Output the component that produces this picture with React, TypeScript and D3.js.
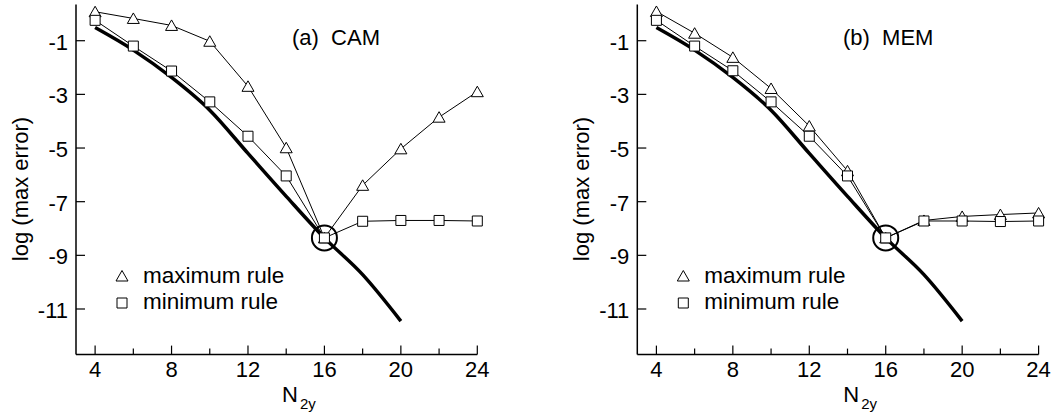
import React from "react";
import * as d3 from "d3";

// Grid resolution N_2y at which each error was measured
const gridSizes = [4, 6, 8, 10, 12, 14, 16, 18, 20, 22, 24];

// log(max error) for the CAM scheme
const camMaximumRule = [0.08, -0.17, -0.43, -1.02, -2.7, -4.99, -8.35, -6.39, -5.03, -3.85, -2.9];
const camMinimumRule = [-0.24, -1.2, -2.13, -3.28, -4.56, -6.04, -8.35, -7.73, -7.7, -7.7, -7.72];

// log(max error) for the MEM scheme
const memMaximumRule = [0.09, -0.72, -1.62, -2.78, -4.18, -5.85, -8.35, -7.7, -7.55, -7.48, -7.42];
const memMinimumRule = [-0.24, -1.2, -2.12, -3.28, -4.56, -6.04, -8.35, -7.72, -7.72, -7.74, -7.72];

// Reference (converged) error curve, common to both panels
const referenceSizes = [4, 6, 8, 10, 12, 14, 16, 18, 20];
const referenceError = [-0.51, -1.35, -2.37, -3.59, -5.2, -6.8, -8.35, -9.72, -11.45];

// Highlighted point where both rules meet
const crossoverSize = 16;
const crossoverError = -8.35;

const xMajorTicks = [4, 8, 12, 16, 20, 24];
const xMinorTicks = [6, 10, 14, 18, 22];
const yTicks = [-1, -3, -5, -7, -9, -11];

const FONT = "'Liberation Sans', Arial, Helvetica, sans-serif";

type PanelProps = {
  left: number;
  title: string;
  titleX: number;
  maxRule: number[];
  minRule: number[];
};

const trianglePath = "M0,-5.5L6,5L-6,5Z";
const squarePath = "M-5,-5H5V5H-5Z";

function Panel({ left, title, titleX, maxRule, minRule }: PanelProps) {
  const x = d3.scaleLinear().domain([3, 24]).range([left, left + 401.3]);
  const y = d3.scaleLinear().domain([-12.7, 0.35]).range([354.6, 4.5]);

  const line = d3
    .line<[number, number]>()
    .x((d) => x(d[0]))
    .y((d) => y(d[1]));

  const smoothLine = d3
    .line<[number, number]>()
    .x((d) => x(d[0]))
    .y((d) => y(d[1]))
    .curve(d3.curveMonotoneX);

  const maxPts: [number, number][] = gridSizes.map((n, i) => [n, maxRule[i]]);
  const minPts: [number, number][] = gridSizes.map((n, i) => [n, minRule[i]]);
  const refPts: [number, number][] = referenceSizes.map((n, i) => [n, referenceError[i]]);

  const x0 = x.range()[0];
  const x1 = x.range()[1];
  const yBottom = y.range()[0];
  const yTop = y.range()[1];

  return (
    <g fontFamily={FONT} fill="#000">
      {/* axes */}
      <line x1={x0} x2={x0} y1={yTop} y2={yBottom} stroke="#000" strokeWidth={1.5} />
      <line x1={x0} x2={x1} y1={yBottom} y2={yBottom} stroke="#000" strokeWidth={1.5} />
      {xMajorTicks.map((t) => (
        <g key={"xm" + t}>
          <line x1={x(t)} x2={x(t)} y1={yBottom} y2={yBottom - 9} stroke="#000" strokeWidth={1.2} />
          <text x={x(t)} y={377} fontSize={22} textAnchor="middle">
            {t}
          </text>
        </g>
      ))}
      {xMinorTicks.map((t) => (
        <line key={"xn" + t} x1={x(t)} x2={x(t)} y1={yBottom} y2={yBottom - 6} stroke="#000" strokeWidth={1.2} />
      ))}
      {yTicks.map((t) => (
        <g key={"y" + t}>
          <line x1={x0} x2={x0 + 9} y1={y(t)} y2={y(t)} stroke="#000" strokeWidth={1.2} />
          <text x={x0 - 8} y={y(t) + 9} fontSize={22} textAnchor="end">
            {t}
          </text>
        </g>
      ))}

      {/* axis titles */}
      <text
        transform={`translate(${x0 - 48},189) rotate(-90)`}
        fontSize={22}
        textAnchor="middle"
      >
        log (max error)
      </text>
      <text x={x0 + 206} y={402} fontSize={22}>
        N
        <tspan fontSize={15} dx={2} dy={7}>
          2y
        </tspan>
      </text>

      {/* panel title */}
      <text x={titleX} y={45} fontSize={22} style={{ whiteSpace: "pre" }}>
        {title}
      </text>

      {/* reference curve */}
      <path d={smoothLine(refPts) ?? ""} fill="none" stroke="#000" strokeWidth={3.5} />

      {/* rule curves */}
      <path d={line(maxPts) ?? ""} fill="none" stroke="#000" strokeWidth={1} />
      <path d={line(minPts) ?? ""} fill="none" stroke="#000" strokeWidth={1} />
      {maxPts.map((p, i) => (
        <path
          key={"t" + i}
          d={trianglePath}
          transform={`translate(${x(p[0])},${y(p[1])})`}
          fill="#fff"
          stroke="#000"
          strokeWidth={1}
        />
      ))}
      {minPts.map((p, i) => (
        <path
          key={"s" + i}
          d={squarePath}
          transform={`translate(${x(p[0])},${y(p[1])})`}
          fill="#fff"
          stroke="#000"
          strokeWidth={1}
        />
      ))}

      {/* crossover marker */}
      <circle cx={x(crossoverSize)} cy={y(crossoverError)} r={12.5} fill="none" stroke="#000" strokeWidth={2} />

      {/* legend */}
      <path d={trianglePath} transform={`translate(${x0 + 46},276)`} fill="#fff" stroke="#000" strokeWidth={1} />
      <text x={x0 + 67} y={283} fontSize={22.5}>
        maximum rule
      </text>
      <path d={squarePath} transform={`translate(${x0 + 46},303)`} fill="#fff" stroke="#000" strokeWidth={1} />
      <text x={x0 + 67} y={309} fontSize={22.5}>
        minimum rule
      </text>
    </g>
  );
}

export default function App() {
  return (
    <svg
      width={1056}
      height={417}
      viewBox="0 0 1056 417"
      style={{ position: "absolute", left: 0, top: 0, background: "#fff" }}
    >
      <rect width={1056} height={417} fill="#fff" />
      <Panel left={76} title="(a)  CAM" titleX={292} maxRule={camMaximumRule} minRule={camMinimumRule} />
      <Panel left={637.3} title="(b)  MEM" titleX={843} maxRule={memMaximumRule} minRule={memMinimumRule} />
    </svg>
  );
}
